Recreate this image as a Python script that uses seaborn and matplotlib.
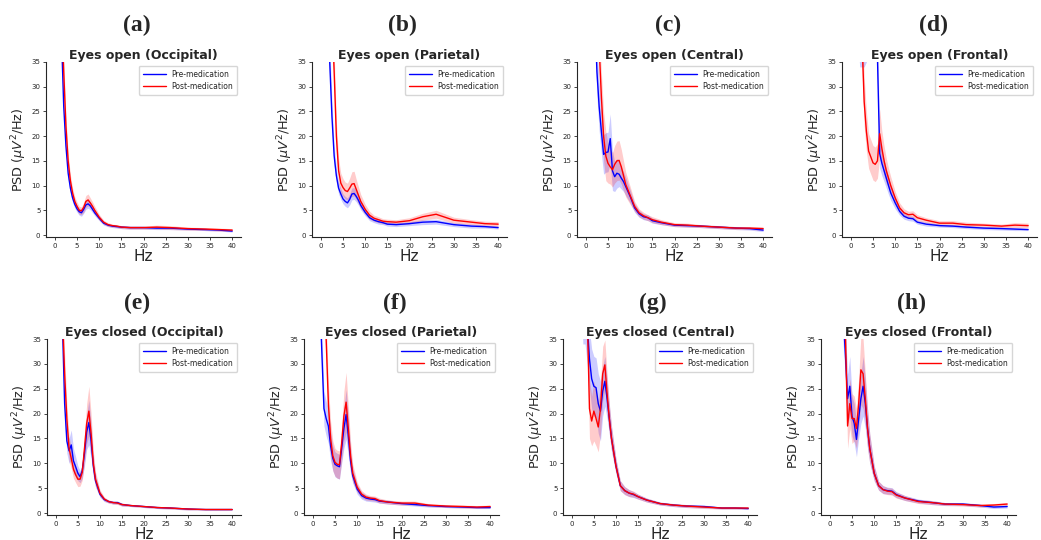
import matplotlib
matplotlib.use("Agg")
import matplotlib.pyplot as plt
import seaborn as sns

# frequency grid (Hz)
freqs = [1, 1.5, 2, 2.5, 3, 3.5, 4, 4.5, 5, 5.5, 6, 6.5, 7, 7.5, 8, 8.5, 9,
         10, 11, 12, 13, 14, 15, 17, 20, 23, 26, 30, 34, 37, 40]

# (a) Eyes open (Occipital)
a_pre = [60, 40, 26, 18, 12.5, 9.5, 7.5, 6.2, 5.3, 4.7, 4.5, 5.2, 6.1, 6.3, 5.9, 5.2, 4.5, 3.4, 2.4, 2.0, 1.8, 1.7, 1.6, 1.5, 1.5, 1.4, 1.4, 1.2, 1.1, 1.0, 0.8]
a_pre_err = [5, 3, 2, 1.5, 1.2, 1.0, 0.9, 0.8, 0.7, 0.7, 0.7, 0.8, 0.9, 0.9, 0.8, 0.7, 0.6, 0.5, 0.4, 0.3, 0.3, 0.3, 0.3, 0.3, 0.3, 0.3, 0.3, 0.2, 0.2, 0.2, 0.2]
a_post = [60, 45, 33, 22, 15, 11, 8.5, 6.8, 5.8, 5.0, 4.9, 5.6, 6.8, 7.1, 6.5, 5.8, 5.0, 3.6, 2.6, 2.1, 1.9, 1.8, 1.6, 1.5, 1.5, 1.6, 1.5, 1.3, 1.2, 1.1, 1.0]
a_post_err = [6, 4, 3, 2, 1.5, 1.2, 1.0, 0.9, 0.9, 0.8, 0.8, 1.0, 1.2, 1.2, 1.0, 0.9, 0.8, 0.6, 0.4, 0.4, 0.3, 0.3, 0.3, 0.3, 0.3, 0.4, 0.4, 0.3, 0.3, 0.3, 0.3]

# (b) Eyes open (Parietal)
b_pre = [60, 48, 35, 24, 16, 12, 9.5, 8.3, 7.3, 6.8, 6.5, 7.2, 8.3, 8.4, 7.8, 7.0, 6.0, 4.6, 3.5, 3.0, 2.7, 2.5, 2.2, 2.1, 2.3, 2.6, 2.7, 2.1, 1.8, 1.7, 1.5]
b_pre_err = [6, 5, 4, 3, 2, 1.5, 1.2, 1.1, 1.0, 1.0, 1.0, 1.1, 1.2, 1.2, 1.1, 1.0, 0.9, 0.7, 0.6, 0.5, 0.5, 0.4, 0.4, 0.4, 0.4, 0.5, 0.5, 0.4, 0.4, 0.3, 0.3]
b_post = [70, 65, 60, 45, 33, 20, 13, 10.5, 9.6, 9.0, 8.8, 9.5, 10.3, 10.4, 9.2, 8.0, 6.8, 5.2, 4.0, 3.4, 3.1, 2.8, 2.7, 2.6, 2.9, 3.7, 4.2, 3.0, 2.6, 2.3, 2.2]
b_post_err = [8, 7, 6, 5, 4, 3, 2.5, 2.0, 1.8, 1.7, 1.7, 2.0, 2.5, 2.5, 2.0, 1.7, 1.4, 1.0, 0.8, 0.6, 0.6, 0.5, 0.5, 0.5, 0.6, 0.7, 0.8, 0.6, 0.5, 0.5, 0.5]

# (c) Eyes open (Central)
c_pre = [70, 60, 45, 33, 26, 21, 16.3, 16.7, 16.8, 19.5, 13, 11.8, 12.5, 12.3, 11.5, 10.8, 9.8, 7.8, 5.5, 4.3, 3.7, 3.5, 2.9, 2.5, 2.0, 1.9, 1.8, 1.6, 1.4, 1.3, 1.0]
c_pre_err = [8, 7, 6, 5, 5, 4.5, 4, 4, 4, 5, 4, 3, 3, 2.5, 2.2, 2, 1.8, 1.3, 0.9, 0.7, 0.6, 0.6, 0.5, 0.4, 0.3, 0.3, 0.3, 0.3, 0.3, 0.3, 0.3]
c_post = [75, 68, 60, 48, 38, 28, 20, 16, 14.5, 13.8, 13.2, 14.3, 15.0, 15.1, 13.8, 12, 10.2, 8, 5.8, 4.5, 3.9, 3.5, 3.1, 2.6, 2.1, 2.0, 1.8, 1.6, 1.4, 1.4, 1.3]
c_post_err = [8, 7, 6, 6, 5, 5, 5, 5, 4, 3.5, 3.5, 3.8, 4, 4, 3.5, 3, 2.5, 1.8, 1.0, 0.8, 0.7, 0.6, 0.6, 0.5, 0.4, 0.4, 0.3, 0.3, 0.3, 0.3, 0.3]

# (d) Eyes open (Frontal)
d_pre = [60, 50, 45, 45, 45, 45, 46, 48, 50, 52, 36, 16.5, 14.5, 13, 11.5, 10, 8.5, 6.5, 4.8, 3.8, 3.4, 3.3, 2.6, 2.2, 1.9, 1.8, 1.6, 1.4, 1.3, 1.2, 1.1]
d_pre_err = [10, 10, 11, 11, 11, 10, 10, 10, 10, 10, 6, 3, 2.5, 2.2, 2, 1.8, 1.5, 1.2, 0.8, 0.6, 0.5, 0.5, 0.4, 0.4, 0.3, 0.3, 0.3, 0.3, 0.3, 0.3, 0.2]
d_post = [70, 60, 50, 40, 27, 21, 17, 15.8, 14.6, 14.3, 15, 20.5, 17.5, 15, 13, 11.5, 10, 7.5, 5.5, 4.5, 4.1, 4.2, 3.5, 3.0, 2.4, 2.4, 2.1, 2.0, 1.8, 2.0, 1.9]
d_post_err = [8, 7, 6, 6, 5, 4, 3.5, 3.5, 3.5, 3.5, 3.5, 5, 3.5, 3, 2.5, 2, 1.8, 1.3, 1.0, 0.8, 0.7, 0.7, 0.6, 0.5, 0.5, 0.5, 0.5, 0.4, 0.4, 0.5, 0.5]

# (e) Eyes closed (Occipital)
e_pre = [60, 38, 22, 14.5, 12.5, 13.7, 10.5, 9.3, 8.0, 7.3, 8.5, 12, 16.3, 18.2, 14.5, 9.5, 6.5, 3.8, 2.7, 2.3, 2.1, 2.1, 1.7, 1.5, 1.3, 1.1, 1.0, 0.8, 0.7, 0.7, 0.7]
e_pre_err = [6, 4, 3, 2.5, 2.5, 3, 2.5, 2, 1.5, 1.2, 1.5, 2.5, 3.5, 4.5, 3.5, 2, 1.2, 0.6, 0.4, 0.3, 0.3, 0.3, 0.3, 0.2, 0.2, 0.2, 0.2, 0.2, 0.1, 0.1, 0.1]
e_post = [60, 40, 28, 19, 13, 11, 8.8, 7.7, 6.8, 6.8, 8.2, 13, 18, 20.5, 16, 10, 6.8, 4, 2.8, 2.3, 2.1, 2.0, 1.7, 1.5, 1.3, 1.1, 1.0, 0.8, 0.7, 0.7, 0.7]
e_post_err = [6, 5, 4, 3, 2.5, 2, 1.8, 1.6, 1.5, 1.4, 1.6, 3, 4, 5, 4, 2.5, 1.5, 0.7, 0.4, 0.3, 0.3, 0.3, 0.3, 0.2, 0.2, 0.2, 0.2, 0.2, 0.1, 0.1, 0.1]

# (f) Eyes closed (Parietal)
f_pre = [60, 45, 33, 21, 19, 17.5, 13.5, 11, 9.8, 9.5, 9.3, 13, 17, 19.8, 15.5, 10.5, 7.5, 4.8, 3.5, 3.0, 2.8, 2.7, 2.4, 2.2, 1.9, 1.7, 1.5, 1.3, 1.2, 1.1, 1.1]
f_pre_err = [6, 5, 4, 3.5, 3.5, 3.5, 3, 2.5, 2.5, 2.5, 2.5, 3, 4, 5, 4, 2.5, 1.5, 1.0, 0.7, 0.6, 0.5, 0.5, 0.4, 0.4, 0.3, 0.3, 0.3, 0.2, 0.2, 0.2, 0.2]
f_post = [70, 62, 55, 45, 35, 22, 15, 11.5, 10.2, 9.8, 9.7, 14, 19.5, 22.3, 17, 11.5, 8, 5.2, 3.8, 3.2, 3.0, 2.9, 2.5, 2.2, 2.0, 2.0, 1.6, 1.4, 1.3, 1.2, 1.3]
f_post_err = [8, 7, 6, 5, 4.5, 4, 3.5, 3, 2.8, 2.8, 2.8, 3.5, 5, 6, 4.5, 3, 1.8, 1.0, 0.7, 0.6, 0.5, 0.5, 0.5, 0.4, 0.4, 0.4, 0.3, 0.3, 0.3, 0.3, 0.3]

# (g) Eyes closed (Central)
g_pre = [70, 65, 60, 48, 45, 38, 31, 27, 25.5, 25.2, 22, 20.5, 24.5, 26.5, 23, 19, 15, 9.5, 5.5, 4.5, 4.0, 3.7, 3.3, 2.6, 1.9, 1.6, 1.4, 1.3, 1.0, 1.0, 0.9]
g_pre_err = [10, 10, 10, 14, 11, 8, 6, 6, 6, 6, 6, 6, 5, 5, 4, 3, 2.5, 1.5, 1.0, 0.8, 0.7, 0.6, 0.5, 0.4, 0.3, 0.3, 0.3, 0.3, 0.2, 0.2, 0.2]
g_post = [70, 65, 60, 55, 50, 40, 21, 18.5, 20.5, 19.0, 17.3, 21, 28, 29.8, 24, 19, 15, 9.5, 5.5, 4.5, 4.0, 3.8, 3.3, 2.6, 1.9, 1.6, 1.4, 1.2, 1.0, 1.0, 1.0]
g_post_err = [10, 10, 10, 10, 10, 8, 6, 5, 6, 5.5, 5, 5, 5.5, 5, 4, 3, 2.5, 1.5, 1.0, 0.8, 0.7, 0.6, 0.5, 0.4, 0.3, 0.3, 0.3, 0.3, 0.2, 0.2, 0.2]

# (h) Eyes closed (Frontal)
h_pre = [70, 65, 60, 50, 40, 32, 23, 25.5, 19.5, 18, 14.8, 19, 23, 25.5, 22, 17, 13, 8, 5.5, 4.7, 4.5, 4.4, 3.7, 3.0, 2.4, 2.1, 1.8, 1.8, 1.5, 1.2, 1.3]
h_pre_err = [10, 10, 10, 8, 6, 5, 5, 6, 4, 4, 3.5, 4, 5, 6, 5, 4, 3, 1.5, 0.9, 0.8, 0.7, 0.7, 0.6, 0.5, 0.4, 0.4, 0.3, 0.3, 0.3, 0.3, 0.3]
h_post = [70, 65, 60, 52, 45, 36, 17.5, 22, 19.0, 19, 17, 22, 28.8, 28, 23, 17, 13, 8, 5.5, 4.7, 4.4, 4.3, 3.6, 3.0, 2.3, 2.1, 1.8, 1.7, 1.5, 1.6, 1.8]
h_post_err = [10, 10, 10, 8, 6, 5, 4.5, 5, 5, 4.5, 4, 5, 7, 7, 5, 4, 3, 1.5, 0.9, 0.8, 0.7, 0.7, 0.6, 0.5, 0.4, 0.4, 0.3, 0.3, 0.3, 0.3, 0.3]

titles = ["Eyes open (Occipital)", "Eyes open (Parietal)", "Eyes open (Central)", "Eyes open (Frontal)",
          "Eyes closed (Occipital)", "Eyes closed (Parietal)", "Eyes closed (Central)", "Eyes closed (Frontal)"]
letters = ["(a)", "(b)", "(c)", "(d)", "(e)", "(f)", "(g)", "(h)"]
panels = [
    (a_pre, a_pre_err, a_post, a_post_err),
    (b_pre, b_pre_err, b_post, b_post_err),
    (c_pre, c_pre_err, c_post, c_post_err),
    (d_pre, d_pre_err, d_post, d_post_err),
    (e_pre, e_pre_err, e_post, e_post_err),
    (f_pre, f_pre_err, f_post, f_post_err),
    (g_pre, g_pre_err, g_post, g_post_err),
    (h_pre, h_pre_err, h_post, h_post_err),
]

sns.set_style("ticks")
plt.rcParams['font.family'] = ['DejaVu Sans']

W, H = 1041, 540
fig = plt.figure(figsize=(W / 100, H / 100), dpi=100)

# axes boxes in pixels: left, top, right, bottom
boxes = [
    (46, 62, 241, 237), (312, 62, 507, 237), (577, 62, 772, 237), (842, 62, 1037, 237),
    (47, 339, 241, 515), (304, 339, 499, 515), (563, 339, 757, 515), (821, 339, 1016, 515),
]
letter_pos = [(137, 25), (402, 25), (668, 25), (933, 25),
              (137, 303), (395, 303), (653, 303), (912, 303)]

for i, (pre, pre_err, post, post_err) in enumerate(panels):
    l, t, r, b = boxes[i]
    ax = fig.add_axes([l / W, 1 - b / H, (r - l) / W, (b - t) / H])

    lo = [m - e for m, e in zip(pre, pre_err)]
    hi = [m + e for m, e in zip(pre, pre_err)]
    ax.fill_between(freqs, lo, hi, color='blue', alpha=0.2, linewidth=0)
    lo = [m - e for m, e in zip(post, post_err)]
    hi = [m + e for m, e in zip(post, post_err)]
    ax.fill_between(freqs, lo, hi, color='red', alpha=0.2, linewidth=0)

    sns.lineplot(x=freqs, y=pre, color='blue', linewidth=1.0, label='Pre-medication', ax=ax)
    sns.lineplot(x=freqs, y=post, color='red', linewidth=1.0, label='Post-medication', ax=ax)

    ax.set_xlim(-2, 42)
    ax.set_ylim(-0.4, 35)
    ax.set_xticks(range(0, 41, 5))
    ax.set_yticks(range(0, 36, 5))
    ax.tick_params(labelsize=5, length=2.5, width=0.6, pad=1.5)
    for s in ['left', 'bottom']:
        ax.spines[s].set_linewidth(0.8)
    sns.despine(ax=ax)

    ax.set_title(titles[i], fontsize=9, fontweight='bold', pad=2)
    ax.set_xlabel('Hz', fontsize=11, labelpad=0)
    ax.set_ylabel(r'PSD ($\mu V^2$/Hz)', fontsize=9.2, labelpad=2)
    ax.legend(loc='upper right', fontsize=5.5, handlelength=3, frameon=True,
              borderpad=0.5, labelspacing=0.4)

    x, y = letter_pos[i]
    fig.text(x / W, 1 - y / H, letters[i], fontsize=17, fontweight='bold',
             family='Liberation Serif', ha='center', va='center')

fig.savefig('out.png', dpi=100)
